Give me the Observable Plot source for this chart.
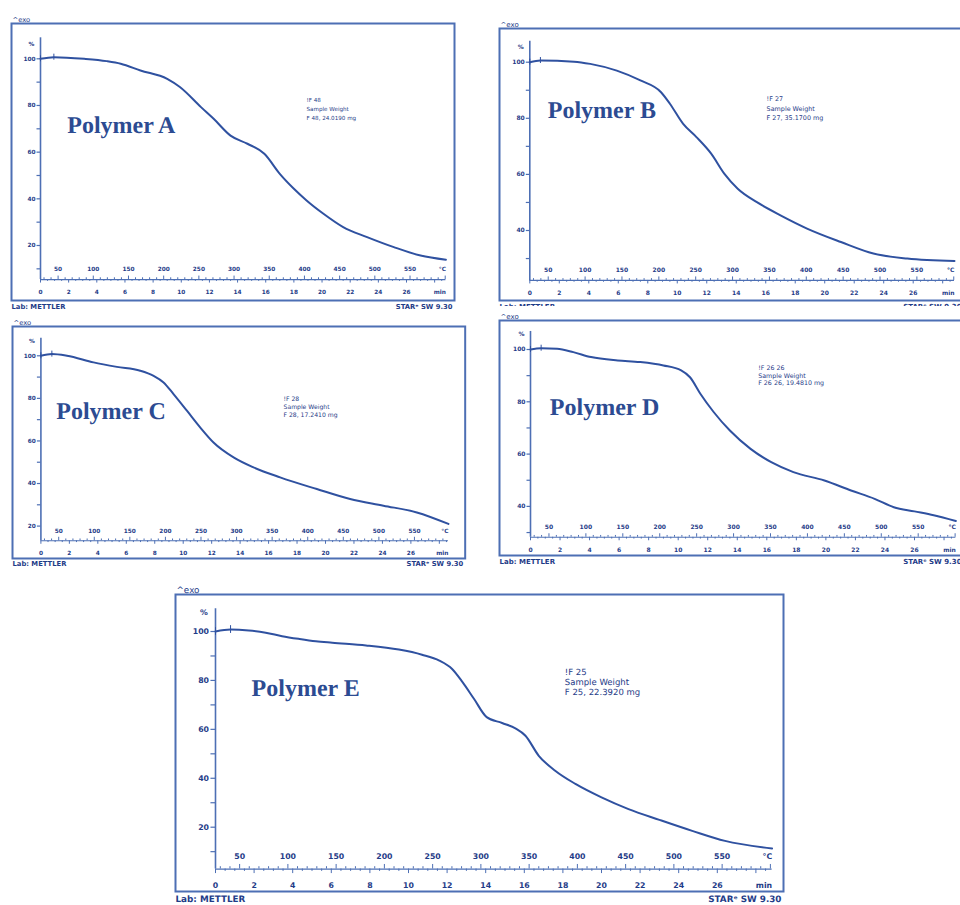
<!DOCTYPE html>
<html><head><meta charset="utf-8">
<script src="https://cdn.jsdelivr.net/npm/d3@7"></script>
<script src="https://cdn.jsdelivr.net/npm/@observablehq/plot@0.6"></script>
<style>
html,body{margin:0;padding:0;background:#fff;}
#page{position:relative;width:960px;height:905px;overflow:hidden;background:#fff;}
.panel{position:absolute;background:#fff;}
.panel svg{display:block;overflow:visible;background:transparent;text-rendering:geometricPrecision;}
</style></head><body><div id="page"></div>
<script>
// ---------- data ----------
const polymerNames = ["Polymer A", "Polymer B", "Polymer C", "Polymer D", "Polymer E"];
const curveIds = ["!F 48", "!F 27", "!F 28", "!F 26 26", "!F 25"];
const sampleWeights = ["F 48, 24.0190 mg", "F 27, 35.1700 mg", "F 28, 17.2410 mg", "F 26 26, 19.4810 mg", "F 25, 22.3920 mg"];

const timeTicks = [0, 2, 4, 6, 8, 10, 12, 14, 16, 18, 20, 22, 24, 26];          // min
const tempTicks = [50, 100, 150, 200, 250, 300, 350, 400, 450, 500, 550];        // °C
const percentTicks = [20, 40, 60, 80, 100];
const percentMinorTicks = [10, 20, 30, 40, 50, 60, 70, 80, 90, 100];

// weight % vs time (min)
const polymerA = [[0,100],[0.95,100.7],[3.1,100],[4.7,99],[5.7,97.9],[7.1,95],[9.0,91.4],[9.9,87.9],[11.4,79.3],[12.3,74.3],[13.5,67.1],[14.7,63.6],[15.9,59.3],[17.0,50.7],[18.0,44.3],[18.9,39.3],[20.1,33.6],[21.5,27.9],[23.2,23.6],[25.1,19.3],[27.0,15.7],[28.8,13.9]];
const polymerB = [[0,100],[0.72,100.6],[3.0,100.2],[4.1,99.4],[5.9,97],[7.5,93.5],[8.9,89.3],[9.5,85.2],[10.4,78],[11.3,73.3],[12.3,67.4],[13.2,60.2],[14.1,54.9],[15.4,50.1],[17.0,45.4],[18.8,40.7],[21.1,35.9],[23.3,31.8],[25.6,30],[28.8,29.1]];
const polymerC = [[0,100],[0.77,100.8],[1.83,100],[3.7,96.9],[5.34,94.8],[6.98,93],[7.92,90.6],[8.62,87.5],[9.32,82],[10.26,74.2],[11.19,66.4],[12.13,59.3],[13.54,52.3],[14.94,47.6],[16.81,42.9],[19.39,37.4],[21.73,32.7],[24.07,29.6],[26.42,26.4],[28.64,21]];
const polymerD = [[0,100],[0.72,100.5],[1.8,100.3],[2.9,99],[4.1,97.1],[5.9,95.8],[7.4,95.2],[9.0,93.9],[10.2,92],[10.8,89.4],[11.5,83.1],[12.4,76.1],[13.5,69],[14.9,62],[16.3,56.9],[17.8,53.1],[19.9,49.9],[21.7,46.1],[23.3,42.9],[24.6,39.7],[26.0,38.1],[27.3,36.6],[28.8,34.4]];
const polymerE = [[0,100],[0.78,100.8],[1.73,100.4],[2.6,99.5],[3.45,98.1],[4.3,97],[5.2,96],[6.05,95.4],[7.8,94.3],[9.5,92.6],[10.7,90.5],[11.6,88.1],[12.26,84.7],[12.8,79.3],[13.4,72.4],[14.05,65],[14.85,62.6],[15.54,60.4],[16.06,57.4],[16.75,49.2],[17.6,43.1],[18.65,37.7],[20.0,32.2],[21.4,27.4],[23.0,23.0],[24.7,18.5],[26.4,14.4],[28.84,11.3]];
const curves = [polymerA, polymerB, polymerC, polymerD, polymerE];

// ---------- layout (positions, sizes, styles) ----------
const layouts = [
  {left:9,    top:9,     width:447,   height:307, x0:31,   x26:397,   y100:49.3, y20:236,   base:5.4,  yTop:109,   name:[1.9,68.0],  ann:[18.9,84.1],  annFs:5.6, annLh:1.6,  fs:5.8, k:1},
  {left:497,  top:14,    width:468,   height:302, x0:32.3, x26:415.7, y100:47.7, y20:272.1, base:22.2, yTop:107.5, name:[1.22,80.2], ann:[16.06,88.4], annFs:6.4, annLh:1.45, fs:6.0, k:1},
  {left:10.3, top:311.7, width:456.7, height:262, x0:30.4, x26:400.4, y100:43.3, y20:213.6, base:13.1, yTop:108.3, name:[1.08,70.3], ann:[17.05,81.5], annFs:6.1, annLh:1.3,  fs:5.8, k:1},
  {left:497,  top:306,   width:468,   height:265, x0:33,   x26:417,   y100:43,   y20:252.2, base:28.2, yTop:106.9, name:[1.31,75.0], ann:[15.42,94.4], annFs:6.3, annLh:1.25, fs:6.0, k:1},
  {left:173,  top:580,   width:612,   height:327, x0:42,   x26:543.8, y100:51,   y20:246.7, base:2.9,  yTop:109.3, name:[1.87,73.5], ann:[18.1,85.3],  annFs:8.5, annLh:1.18, fs:7.8, k:1.3}
];
const frameColor = "#4d6fb4";
const lineColor = "#2f51a0";
const textColor = "#1f3c88";
const nameColor = "#2c4b92";
const toTime = T => (T - 25) / 20;   // heating 20 K/min from 25 °C

const page = document.getElementById("page");

curves.forEach((data, i) => {
  const L = layouts[i];
  const pxPerMin = (L.x26 - L.x0) / 26;
  const pxPerPct = (L.y20 - L.y100) / 80;
  const mx = px => px / pxPerMin;
  const my = px => px / pxPerPct;
  const tEnd = data[data.length - 1][0];
  const k = L.k;
  const fs = L.fs;
  const minorMin = d3.range(0, tEnd + 0.01, 0.5);
  const minorTemp = d3.range(30, 25 + tEnd * 20, 10);
  const txt = {fill: textColor, fontWeight: "bold", fontSize: fs};

  const chart = Plot.plot({
    width: L.width, height: L.height,
    marginLeft: 2, marginRight: 2, marginTop: 14, marginBottom: 16,
    x: {domain: [0, 26], range: [L.x0, L.x26], axis: null},
    y: {domain: [20, 100], range: [L.y20, L.y100], axis: null},
    style: {fontFamily: "DejaVu Sans", background: "transparent", overflow: "visible"},
    marks: [
      Plot.frame({stroke: frameColor, strokeWidth: 2}),
      Plot.text(["^exo"], {frameAnchor: "top-left", dx: 1, dy: -6 * k, textAnchor: "start", ...txt, fontWeight: "normal", fontSize: fs + 1}),
      Plot.text(["Lab: METTLER"], {frameAnchor: "bottom-left", dx: 0, dy: 8 * k, textAnchor: "start", ...txt, fontSize: fs + 1}),
      Plot.text(["STARᵉ SW 9.30"], {frameAnchor: "bottom-right", dx: -2, dy: 8 * k, textAnchor: "end", ...txt, fontSize: fs + 1}),
      // y axis
      Plot.ruleX([0], {y1: L.base, y2: L.yTop, stroke: frameColor, strokeWidth: 1.6}),
      Plot.ruleY(percentMinorTicks.filter(v => v > L.base + 1), {y: d => d, x1: mx(-3.5 * k), x2: 0, stroke: frameColor, strokeWidth: 1.2}),
      Plot.text(percentTicks.filter(v => v > L.base + 1), {x: 0, y: d => d, text: d => String(d), dx: -5 * k, textAnchor: "end", ...txt}),
      Plot.text(["%"], {x: 0, y: 100, dx: -9 * k, dy: -15 * k, textAnchor: "middle", ...txt}),
      // time / temperature axis
      Plot.ruleY([L.base], {x1: 0, x2: tEnd, stroke: frameColor, strokeWidth: 1.2}),
      Plot.ruleX(minorMin, {x: d => d, y1: L.base, y2: d => L.base - my((d % 2 === 0 ? 3.5 : 1.8) * k), stroke: frameColor, strokeWidth: 1}),
      Plot.ruleX(minorTemp, {x: toTime, y1: L.base, y2: T => L.base + my((T % 50 === 0 ? 3.5 : 1.8) * k), stroke: frameColor, strokeWidth: 1}),
      Plot.text(tempTicks, {x: toTime, y: L.base, dy: -10 * k, text: d => String(d), ...txt}),
      Plot.text(["°C"], {x: tEnd, y: L.base, dy: -10 * k, textAnchor: "end", ...txt}),
      Plot.text(timeTicks, {x: d => d, y: L.base, dy: 12.5 * k, text: d => String(d), ...txt}),
      Plot.text(["min"], {x: tEnd, y: L.base, dy: 12.5 * k, textAnchor: "end", ...txt}),
      // curve
      Plot.line(data, {x: d => d[0], y: d => d[1], curve: "monotone-x", stroke: lineColor, strokeWidth: 2}),
      Plot.ruleX(data.slice(0, 2), {x: d => d[0], y1: d => d[1] - my(3 * k), y2: d => d[1] + my(3 * k), stroke: lineColor, strokeWidth: 1}),
      // annotation
      Plot.text([curveIds[i] + "\n" + "Sample Weight" + "\n" + sampleWeights[i]], {x: L.ann[0], y: L.ann[1], textAnchor: "start", lineAnchor: "top", lineHeight: L.annLh, fill: textColor, fontSize: L.annFs}),
      Plot.text([polymerNames[i]], {x: L.name[0], y: L.name[1], textAnchor: "start", lineAnchor: "bottom", fontFamily: "Liberation Serif", fontWeight: "bold", fontSize: 24, fill: nameColor})
    ]
  });
  const div = document.createElement("div");
  div.className = "panel";
  div.style.left = L.left + "px";
  div.style.top = L.top + "px";
  div.style.width = L.width + "px";
  div.style.height = L.height + "px";
  div.appendChild(chart);
  page.appendChild(div);
});
</script>
</body></html>
